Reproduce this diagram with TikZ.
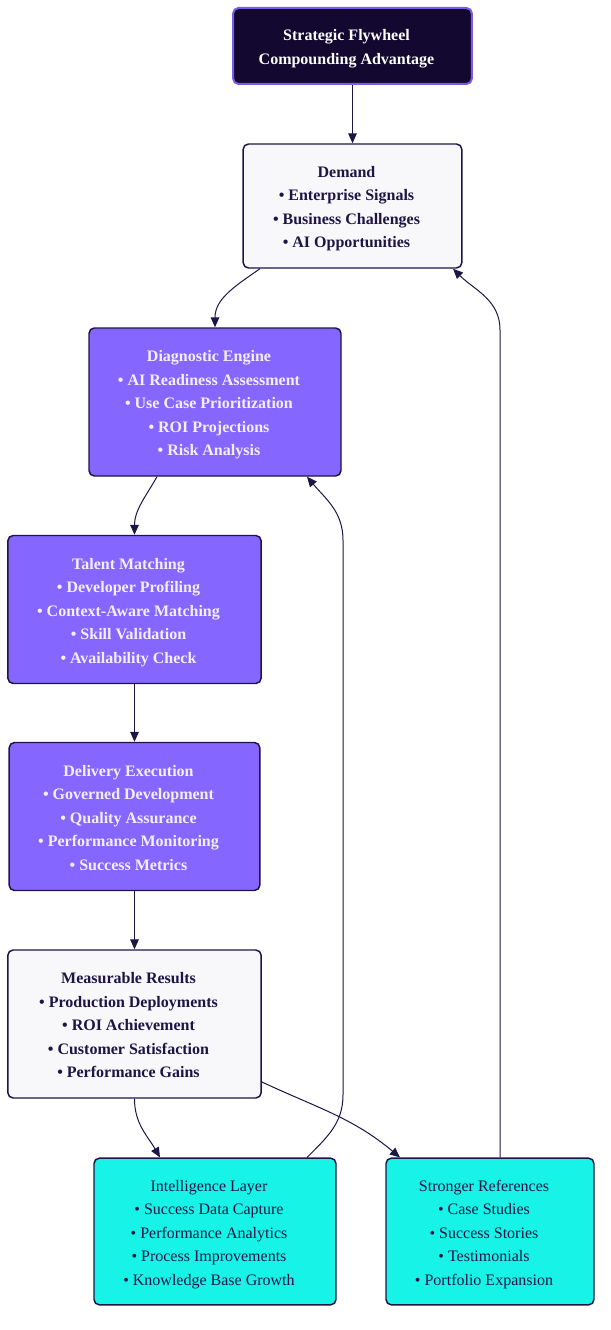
\documentclass[tikz,border=0pt]{standalone}
\usepackage{fontspec}
\setmainfont{Liberation Serif}
\usetikzlibrary{arrows.meta,positioning}

\definecolor{flydark}{HTML}{130830}
\definecolor{flyrim}{HTML}{7B5CE6}
\definecolor{flyline}{HTML}{1E1446}
\definecolor{flylight}{HTML}{F8F8FB}
\definecolor{flypurple}{HTML}{8566FF}
\definecolor{flycyan}{HTML}{17F3E6}
\definecolor{flywhite}{HTML}{F2F0FF}

% box text, set a little left of the box centre
\newcommand\flytext[1]{\begin{tabular}{@{}c@{\hspace{9pt}}}\rule{0pt}{15.3pt}#1\end{tabular}}

\begin{document}
\begin{tikzpicture}[x=0.75pt,y=-0.75pt,thick,>={Triangle[length=7.5pt,width=6.5pt]}]
      \tikzset{
        flybox/.style={draw=flyline,line width=1.1pt,rectangle,rounded corners=4pt,align=center,inner sep=0pt,
          font=\fontsize{12pt}{17.6pt}\selectfont\bfseries,minimum height=111pt},
        darkbox/.style={flybox,fill=flydark,draw=flyrim,line width=1.5pt,text=white,minimum height=57pt},
        lightbox/.style={flybox,fill=flylight,text=flyline},
        purplebox/.style={flybox,fill=flypurple,text=flywhite},
        cyanbox/.style={flybox,fill=flycyan,text=flyline,font=\fontsize{12pt}{17.6pt}\selectfont\mdseries,minimum height=110pt},
        flow/.style={->,draw=flyline,line width=0.75pt}
      }
      \useasboundingbox (0,0) rectangle (610,1330);

      \node[darkbox,minimum width=179pt] (flywheel) at (352.5,46) {\flytext{Strategic Flywheel\\Compounding Advantage}};
      \node[lightbox,minimum width=164pt,minimum height=93pt] (demand) at (352.5,206)
        {\flytext{Demand\\• Enterprise Signals\\• Business Challenges\\• AI Opportunities}};
      \node[purplebox,minimum width=189pt] (diagnostic) at (215,402)
        {\flytext{Diagnostic Engine\\• AI Readiness Assessment\\• Use Case Prioritization\\• ROI Projections\\• Risk Analysis}};
      \node[purplebox,minimum width=190pt] (talent) at (134.5,609.5)
        {\flytext{Talent Matching\\• Developer Profiling\\• Context-Aware Matching\\• Skill Validation\\• Availability Check}};
      \node[purplebox,minimum width=188pt] (delivery) at (134.5,816.5)
        {\flytext{Delivery Execution\\• Governed Development\\• Quality Assurance\\• Performance Monitoring\\• Success Metrics}};
      \node[lightbox,minimum width=190pt] (results) at (134.5,1024)
        {\flytext{Measurable Results\\• Production Deployments\\• ROI Achievement\\• Customer Satisfaction\\• Performance Gains}};
      \node[cyanbox,minimum width=181.5pt] (intel) at (215,1231.5)
        {\flytext{Intelligence Layer\\• Success Data Capture\\• Performance Analytics\\• Process Improvements\\• Knowledge Base Growth}};
      \node[cyanbox,minimum width=156pt] (refs) at (490,1231.5)
        {\flytext{Stronger References\\• Case Studies\\• Success Stories\\• Testimonials\\• Portfolio Expansion}};

      % bends of the two return paths
      \coordinate (intelup) at (343,1095);
      \coordinate (inteltop) at (343,540);
      \coordinate (refstop) at (500,330);

      \draw[flow] (flywheel)--(demand);
      \draw[flow] ([xshift=-69.4pt]demand.south) to[out=215,in=90] (diagnostic.north);
      \draw[flow] ([xshift=-43.5pt]diagnostic.south) to[out=240,in=90] (talent.north);
      \draw[flow] (talent)--(delivery);
      \draw[flow] (delivery)--(results);
      \draw[flow] (results.south) to[out=-90,in=120] ([xshift=-41.25pt]intel.north);
      \draw[flow] ([yshift=-43.5pt]results.east) to[out=-25,in=140] ([xshift=-67.5pt]refs.north);
      \draw[flow] ([xshift=69pt]intel.north) to[out=45,in=-90] (intelup)--(inteltop)
        to[out=90,in=-50] ([xshift=69pt]diagnostic.south);
      \draw[flow] ([xshift=7.5pt]refs.north)--(refstop) to[out=90,in=-45] ([xshift=75.4pt]demand.south);
    \end{tikzpicture}
\end{document}
